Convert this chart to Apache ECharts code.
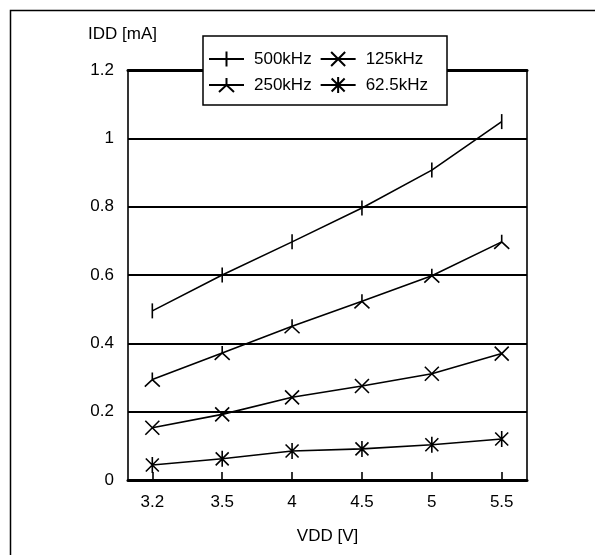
<!DOCTYPE html>
<html>
<head>
<meta charset="utf-8">
<script src="https://cdn.jsdelivr.net/npm/echarts@6/dist/echarts.min.js"></script>
<style>
html,body{margin:0;padding:0;background:#fff;}
#chart{width:595px;height:555px;}
</style>
</head>
<body>
<div id="chart"></div>
<script>
const xLabels = ['3.2', '3.5', '4', '4.5', '5', '5.5'];
const seriesNames = ['500kHz', '250kHz', '125kHz', '62.5kHz'];
const idd500 = [0.495, 0.60, 0.697, 0.796, 0.907, 1.049];
const idd250 = [0.294, 0.372, 0.450, 0.523, 0.598, 0.697];
const idd125 = [0.153, 0.192, 0.242, 0.275, 0.311, 0.370];
const idd62 = [0.044, 0.062, 0.085, 0.091, 0.103, 0.120];
const yTicks = [0, 0.2, 0.4, 0.6, 0.8, 1.0, 1.2];
const yTitle = 'IDD [mA]';
const xTitle = 'VDD [V]';

const FONT = '"Liberation Sans", Arial, sans-serif';
const symbols = {
  '500kHz': 'path://M0,0L0,0M16,16L16,16M8,0.5L8,15.5',
  '250kHz': 'path://M0,0L0,0M16,16L16,16M8,1L8,8M0.5,15L8,8L15.5,15',
  '125kHz': 'path://M0,0L0,0M16,16L16,16M1,1L15,15M15,1L1,15',
  '62.5kHz': 'path://M0,0L0,0M16,16L16,16M1.5,1.5L14.5,14.5M14.5,1.5L1.5,14.5M8,0L8,16'
};
const dataSets = [idd500, idd250, idd125, idd62];
const idx = xLabels.map((_, i) => i);

const chart = echarts.init(document.getElementById('chart'), null, {renderer: 'canvas'});
const series = seriesNames.map((name, s) => ({
  name: name,
  type: 'line',
  data: dataSets[s].map((v, i) => [idx[i], v]),
  symbol: symbols[name],
  symbolSize: 16,
  showAllSymbol: true,
  lineStyle: {color: '#000', width: 1.6},
  itemStyle: {color: 'rgba(0,0,0,0)', borderColor: '#000', borderWidth: 1.6},
  emphasis: {disabled: true},
  animation: false,
  z: 3
}));

const option = {
  animation: false,
  backgroundColor: '#fff',
  title: {
    text: yTitle, left: 88, top: 26, padding: 0,
    textStyle: {fontFamily: FONT, fontSize: 17, fontWeight: 'normal', color: '#000'}
  },
  graphic: [{
    type: 'rect', shape: {x: 10.5, y: 10.5, width: 700, height: 700},
    style: {fill: 'none', stroke: '#000', lineWidth: 1.5}, z: -10, silent: true
  }],
  grid: {left: 128, right: 68, top: 70, bottom: 75, show: false},
  legend: {
    data: ['500kHz', '125kHz', '250kHz', '62.5kHz'],
    left: 203, top: 36,
    width: 240,
    orient: 'horizontal',
    itemWidth: 35, itemHeight: 20, itemGap: 8,
    padding: [14, 19, 11, 5],
    backgroundColor: '#fff',
    borderColor: '#000', borderWidth: 1.5,
    textStyle: {fontFamily: FONT, fontSize: 17, color: '#000', width: 67, padding: [0, 0, 0, 5]},
    z: 10,
    selectedMode: false
  },
  xAxis: [{
    type: 'value', position: 'bottom',
    min: -0.348, max: 5.362,
    name: xTitle, nameLocation: 'middle', nameGap: 48,
    nameTextStyle: {fontFamily: FONT, fontSize: 17, color: '#000'},
    axisLine: {show: true, onZero: false, lineStyle: {color: '#000', width: 3}},
    axisTick: {show: true, inside: true, length: 8, customValues: idx, lineStyle: {color: '#000', width: 1.6}},
    axisLabel: {customValues: idx, formatter: v => xLabels[Math.round(v)], fontFamily: FONT, fontSize: 17, color: '#000', margin: 14},
    splitLine: {show: false}
  }, {
    type: 'value', position: 'top',
    min: -0.348, max: 5.362,
    axisLine: {show: true, onZero: false, lineStyle: {color: '#000', width: 3}},
    axisTick: {show: false}, axisLabel: {show: false}, splitLine: {show: false}
  }],
  yAxis: [{
    type: 'value', position: 'left',
    min: yTicks[0], max: yTicks[yTicks.length - 1], interval: 0.2,
    axisLine: {show: true, onZero: false, lineStyle: {color: '#000', width: 1.6}},
    axisTick: {show: false},
    axisLabel: {fontFamily: FONT, fontSize: 17, color: '#000', margin: 14},
    splitLine: {show: true, lineStyle: {color: '#000', width: 1.8}}
  }, {
    type: 'value', position: 'right',
    min: yTicks[0], max: yTicks[yTicks.length - 1], interval: 0.2,
    axisLine: {show: true, onZero: false, lineStyle: {color: '#000', width: 1.6}},
    axisTick: {show: false}, axisLabel: {show: false}, splitLine: {show: false}
  }],
  series: series
};
chart.setOption(option);
</script>
</body>
</html>
